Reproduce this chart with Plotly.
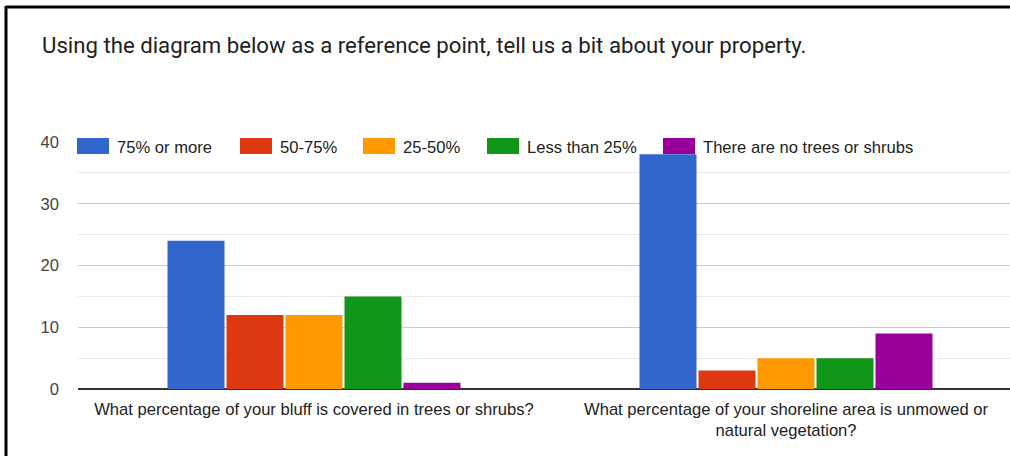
import plotly.graph_objects as go

# ---- data ----
categories = [
    "What percentage of your bluff is covered in trees or shrubs?",
    "What percentage of your shoreline area is unmowed or<br>natural vegetation?",
]
series_names = ["75% or more", "50-75%", "25-50%", "Less than 25%", "There are no trees or shrubs"]
series_colors = ["#3366CC", "#DC3912", "#FF9900", "#109618", "#990099"]
values_75_plus = [24, 38]
values_50_75 = [12, 3]
values_25_50 = [12, 5]
values_lt_25 = [15, 5]
values_none = [1, 9]
series_values = [values_75_plus, values_50_75, values_25_50, values_lt_25, values_none]
y_ticks = [0, 10, 20, 30, 40]
title_text = "Using the diagram below as a reference point, tell us a bit about your property."

# ---- layout geometry (pixels) ----
W, H = 1010, 456
L, R, T, B = 78, 0, 142, 67
plot_w = W - L - R
plot_h = H - T - B
FONT = "Arial, Liberation Sans"
FS = 16.6


def px_x(p):
    return (p - L) / plot_w


def px_y(p):
    return (H - B - p) / plot_h


fig = go.Figure()
for name, color, vals in zip(series_names, series_colors, series_values):
    fig.add_trace(go.Bar(
        x=[0, 1], y=vals, name=name, marker=dict(color=color, line=dict(width=0)),
        showlegend=False,
    ))

# manual legend (wide swatches like the reference)
legend_box_x = [77, 240, 363, 487, 663]
shapes = []
annotations = []
for name, color, bx in zip(series_names, series_colors, legend_box_x):
    shapes.append(dict(type="rect", xref="paper", yref="paper",
                       x0=px_x(bx), x1=px_x(bx + 32), y0=px_y(154), y1=px_y(138),
                       fillcolor=color, line=dict(width=0), layer="above"))
    annotations.append(dict(xref="paper", yref="paper", x=px_x(bx + 39), y=px_y(147),
                            xanchor="left", yanchor="middle", text=name, showarrow=False,
                            bgcolor="white", borderpad=0,
                            font=dict(family=FONT, size=FS, color="#222222")))

# title
annotations.append(dict(xref="paper", yref="paper", x=px_x(40), y=px_y(45),
                        xanchor="left", yanchor="middle", text=title_text, showarrow=False,
                        font=dict(family="Roboto", size=22.2, color="#212121")))

# frame border (top and left)
shapes.append(dict(type="line", xref="paper", yref="paper",
                   x0=px_x(6), x1=px_x(W + 5), y0=px_y(7), y1=px_y(7),
                   line=dict(color="black", width=3), layer="above"))
shapes.append(dict(type="line", xref="paper", yref="paper",
                   x0=px_x(6), x1=px_x(6), y0=px_y(6), y1=px_y(H + 5),
                   line=dict(color="black", width=3), layer="above"))

fig.update_layout(
    width=W, height=H,
    margin=dict(l=L, r=R, t=T, b=B, pad=0),
    paper_bgcolor="white", plot_bgcolor="white",
    barmode="group", bargap=0.375, bargroupgap=0.034,
    showlegend=False,
    shapes=shapes, annotations=annotations,
    font=dict(family=FONT, size=FS, color="#222222"),
)
fig.update_xaxes(
    range=[-0.5, 1.5 - 12 / 472], tickmode="array", tickvals=[0, 1], ticktext=categories,
    showgrid=False, zeroline=False, showline=False, ticks="",
    tickfont=dict(family=FONT, size=FS, color="#222222"),
    ticklabelstandoff=8,
)
fig.update_yaxes(
    range=[0, 40], tickmode="array", tickvals=y_ticks,
    showgrid=True, gridcolor="#cccccc", gridwidth=1,
    minor=dict(dtick=5, tick0=0, showgrid=True, gridcolor="#ebebeb", gridwidth=1),
    zeroline=True, zerolinecolor="#333333", zerolinewidth=1.5,
    showline=False, ticks="",
    tickfont=dict(family=FONT, size=FS, color="#444444"),
    ticklabelstandoff=18,
)

fig.write_html(
    "out.html",
    config={"displayModeBar": False},
    post_script="document.body.style.margin='0';document.body.style.overflow='hidden';",
)
